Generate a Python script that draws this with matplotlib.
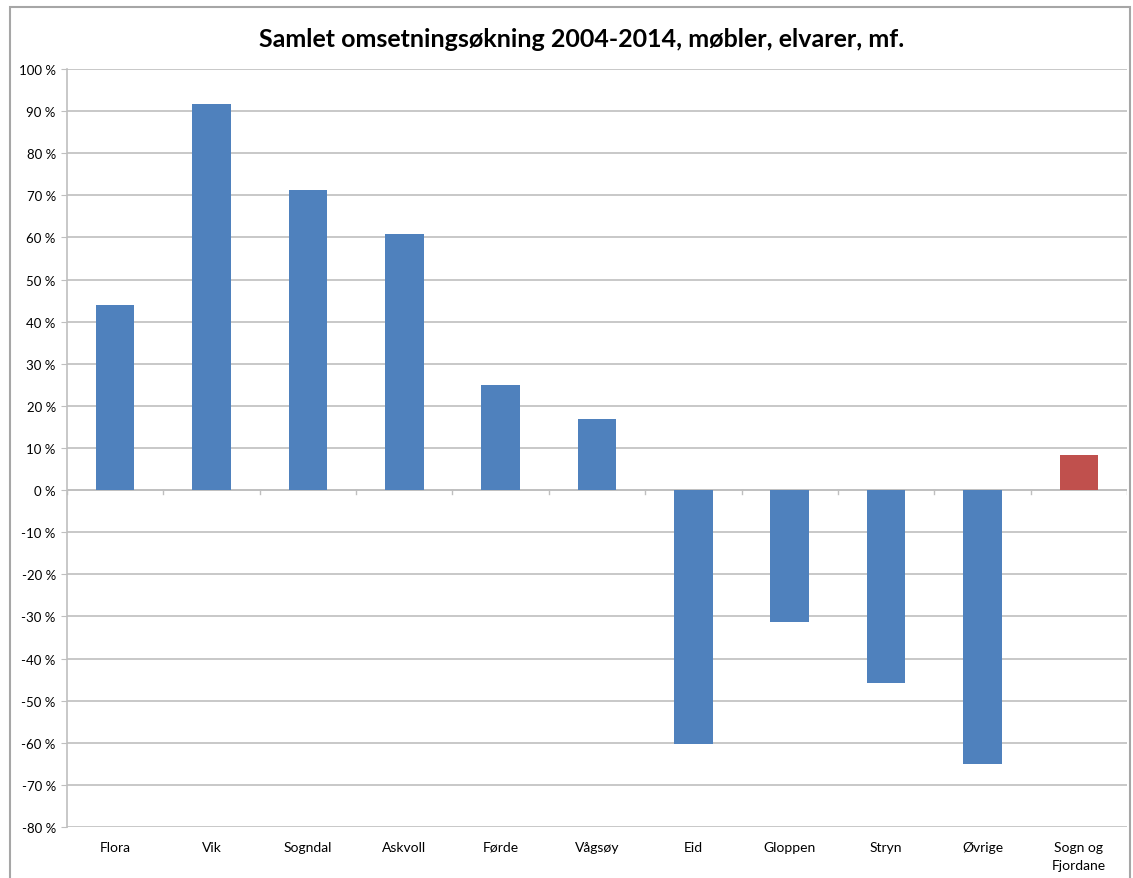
import matplotlib
matplotlib.use("Agg")
import matplotlib.pyplot as plt
from matplotlib.patches import Rectangle
from matplotlib.ticker import MultipleLocator, FuncFormatter

categories = ["Flora", "Vik", "Sogndal", "Askvoll", "Førde", "Vågsøy",
              "Eid", "Gloppen", "Stryn", "Øvrige", "Sogn og\nFjordane"]
values = [44.0, 91.7, 71.3, 60.9, 25.0, 16.9,
          -60.3, -31.4, -45.9, -65.1, 8.3]
colors = ["#4F81BD"] * 10 + ["#C0504D"]
title = "Samlet omsetningsøkning 2004-2014, møbler, elvarer, mf."

plt.rcParams["font.family"] = ["Lato", "DejaVu Sans"]

fig = plt.figure(figsize=(11.33, 8.79), dpi=100)
ax = fig.add_axes([0.0591, 0.058, 0.9356, 0.8624])

x = range(len(categories))
ax.bar(x, values, width=0.4, color=colors, zorder=3)

ax.set_xlim(-0.5, len(categories) - 0.5)
ax.set_ylim(-80, 100)
ax.yaxis.set_major_locator(MultipleLocator(10))
ax.yaxis.set_major_formatter(FuncFormatter(lambda v, p: f"{int(round(v))} %"))
ax.grid(axis="y", color="#BFBFBF", linewidth=1.2, zorder=0)
ax.axhline(0, color="#BFBFBF", linewidth=1.2, zorder=2)

ax.set_xticks(list(x))
ax.set_xticklabels(categories, fontsize=10, linespacing=1.6)
ax.tick_params(axis="x", length=0, pad=10)
ax.tick_params(axis="y", length=4, color="#BFBFBF", labelsize=9.5, pad=4)

# category boundary tick marks on the zero line
for b in range(len(categories) + 1):
    ax.plot([b - 0.5, b - 0.5], [0, -1.0], color="#BFBFBF", linewidth=1, zorder=2)

for side in ["top", "right", "bottom"]:
    ax.spines[side].set_visible(False)
ax.spines["left"].set_color("#BFBFBF")
ax.spines["left"].set_linewidth(1.2)

fig.text(0.513, 0.955, title, ha="center", va="center", fontsize=18, fontweight="bold")

# outer chart border
fig.patches.append(Rectangle((10 / 1133, -4 / 879), 1120 / 1133, 875 / 879,
                             transform=fig.transFigure, fill=False,
                             edgecolor="#A6A6A6", linewidth=1.5))

fig.savefig("out.png", dpi=100)
